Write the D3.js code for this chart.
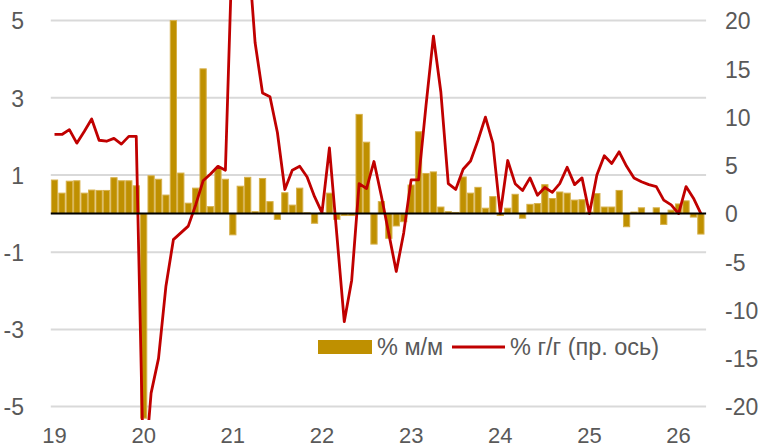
<!DOCTYPE html>
<html>
<head>
<meta charset="utf-8">
<script src="https://cdn.jsdelivr.net/npm/d3@7"></script>
<style>
  body { margin: 0; background: #fff; }
  svg text { font-family: "Liberation Sans", Arial, sans-serif; fill: #595959; }
</style>
</head>
<body>
<script>
// monthly data, Jan 2019 .. Apr 2026
var years = ["19", "20", "21", "22", "23", "24", "25", "26"];
var leftTicks = [-5, -3, -1, 1, 3, 5];
var rightTicks = [-20, -15, -10, -5, 0, 5, 10, 15, 20];

// % m/m (bars, left axis)
var mom = [0.87, 0.53, 0.84, 0.85, 0.53, 0.61, 0.60, 0.60, 0.93, 0.85, 0.85, 0.72,
    -5.3, 0.98, 0.89, 0.48, 5.0, 1.05, 0.27, 0.66, 3.75, 0.18, 1.17, 0.89,
    -0.55, 0.71, 0.94, 0.05, 0.91, 0.31, -0.15, 0.54, 0.22, 0.66, 0.02, -0.25,
    0.02, 0.53, -0.15, -0.05, -0.05, 2.57, 1.85, -0.79, 0.31, -0.64, -0.32, -0.21,
    0.74, 2.12, 1.04, 1.08, 0.17, 0.05, 0.03, 0.95, 0.53, 0.68, 0.14, 0.44,
    -0.05, 0.14, 0.5, -0.12, 0.24, 0.26, 0.75, 0.39, 0.56, 0.53, 0.35, 0.36,
    0.04, 0.52, 0.17, 0.17, 0.6, -0.34, 0.04, 0.15, 0.0, 0.15, -0.28, 0.09,
    0.25, 0.33, -0.09, -0.53];

// % y/y (line, right axis)
var yoy = [8.2, 8.2, 8.7, 7.3, 8.5, 9.8, 7.6, 7.5, 7.8, 7.2, 8.0, 8.0,
    -28, -18.6, -15, -7.5, -2.7, -2.0, -1.3, 0.9, 3.4, 4.1, 4.9, 4.5,
    29.5, 32, 28, 17.7, 12.5, 12.1, 8.4, 2.5, 4.5, 4.9, 3.8, 1.75,
    0.1, 6.8, -2.2, -11.2, -6.9, 3.1, 2.6, 5.4, 1.8, -2.1, -6.0, -2.0,
    3.5, 3.5, 11.2, 18.4, 12.6, 3.1, 2.5, 4.6, 5.45, 7.6, 10.0, 7.3,
    0.0, 5.5, 3.1, 2.4, 3.7, 1.9, 2.7, 2.2, 3.1, 4.8, 3.0, 3.7,
    0.0, 4.0, 6.0, 5.2, 6.4, 4.9, 3.7, 3.3, 3.0, 2.8, 1.4, 0.9,
    0.0, 2.8, 1.6, 0.0];

var width = 763, height = 447;
var plot = {left: 50.8, right: 704.6, top: 20.6, bottom: 406.6};

var x = d3.scaleBand()
    .domain(d3.range(mom.length))
    .range([plot.left, plot.right])
    .paddingInner(0.16)
    .paddingOuter(0.08);

var yL = d3.scaleLinear().domain([-5, 5]).range([plot.bottom, plot.top]);
var yR = d3.scaleLinear().domain([-20, 20]).range([plot.bottom, plot.top]);

var svg = d3.select("body").append("svg")
    .attr("width", width)
    .attr("height", height);

svg.append("defs").append("clipPath")
    .attr("id", "clip")
    .append("rect")
    .attr("x", 45).attr("y", 0)
    .attr("width", 670).attr("height", 420);

// gridlines
svg.append("g")
    .selectAll("line")
    .data(leftTicks)
    .enter().append("line")
    .attr("x1", plot.left).attr("x2", plot.right + 1.5)
    .attr("y1", d => yL(d)).attr("y2", d => yL(d))
    .attr("stroke", "#D9D9D9")
    .attr("stroke-width", 2);

// left axis labels (plain hyphen for minus, like the original)
var leftAxis = svg.append("g")
    .call(d3.axisLeft(yL).tickValues(leftTicks).tickSize(0).tickFormat(d => String(d)));
leftAxis.select(".domain").remove();
leftAxis.selectAll("text")
    .attr("x", 24)
    .attr("dy", "0.36em")
    .style("font-size", "23px");

// right axis labels
var rightAxis = svg.append("g")
    .attr("transform", "translate(725,0)")
    .call(d3.axisRight(yR).tickValues(rightTicks).tickSize(0).tickFormat(d => String(d)));
rightAxis.select(".domain").remove();
rightAxis.selectAll("text")
    .attr("x", 0)
    .attr("dy", "0.36em")
    .style("font-size", "23px");

// x axis labels (January of each year)
var xAxis = svg.append("g")
    .attr("transform", "translate(0,443)")
    .call(d3.axisBottom(x)
        .tickValues(d3.range(0, mom.length, 12))
        .tickSize(0)
        .tickFormat((d, i) => years[i]));
xAxis.select(".domain").remove();
xAxis.selectAll("text")
    .attr("y", 0)
    .attr("dy", "0")
    .style("font-size", "22px");

var chart = svg.append("g").attr("clip-path", "url(#clip)");

// bars
chart.selectAll("rect.bar")
    .data(mom)
    .enter().append("rect")
    .attr("class", "bar")
    .attr("x", (d, i) => x(i))
    .attr("width", x.bandwidth())
    .attr("y", d => yL(Math.max(0, d)))
    .attr("height", d => Math.abs(yL(d) - yL(0)))
    .attr("fill", "#BF9000")
    .attr("stroke", "#D6B04A")
    .attr("stroke-width", 1);

// zero line
svg.append("line")
    .attr("x1", plot.left).attr("x2", plot.right + 1.5)
    .attr("y1", yL(0)).attr("y2", yL(0))
    .attr("stroke", "#000")
    .attr("stroke-width", 2);

// y/y line
var valueline = d3.line()
    .x((d, i) => x(i) + x.bandwidth() / 2)
    .y(d => yR(d));

chart.append("path")
    .datum(yoy)
    .attr("d", valueline)
    .attr("fill", "none")
    .attr("stroke", "#C00000")
    .attr("stroke-width", 2.8)
    .attr("stroke-linejoin", "round");

// legend
var legend = svg.append("g");
legend.append("rect")
    .attr("x", 318).attr("y", 340)
    .attr("width", 54).attr("height", 14)
    .attr("fill", "#BF9000");
legend.append("text")
    .attr("x", 377).attr("y", 355)
    .style("font-size", "23.5px")
    .text("% м/м");
legend.append("line")
    .attr("x1", 452).attr("x2", 505)
    .attr("y1", 347).attr("y2", 347)
    .attr("stroke", "#C00000")
    .attr("stroke-width", 2.8);
legend.append("text")
    .attr("x", 510).attr("y", 355)
    .style("font-size", "23.5px")
    .text("% г/г (пр. ось)");
</script>
</body>
</html>
